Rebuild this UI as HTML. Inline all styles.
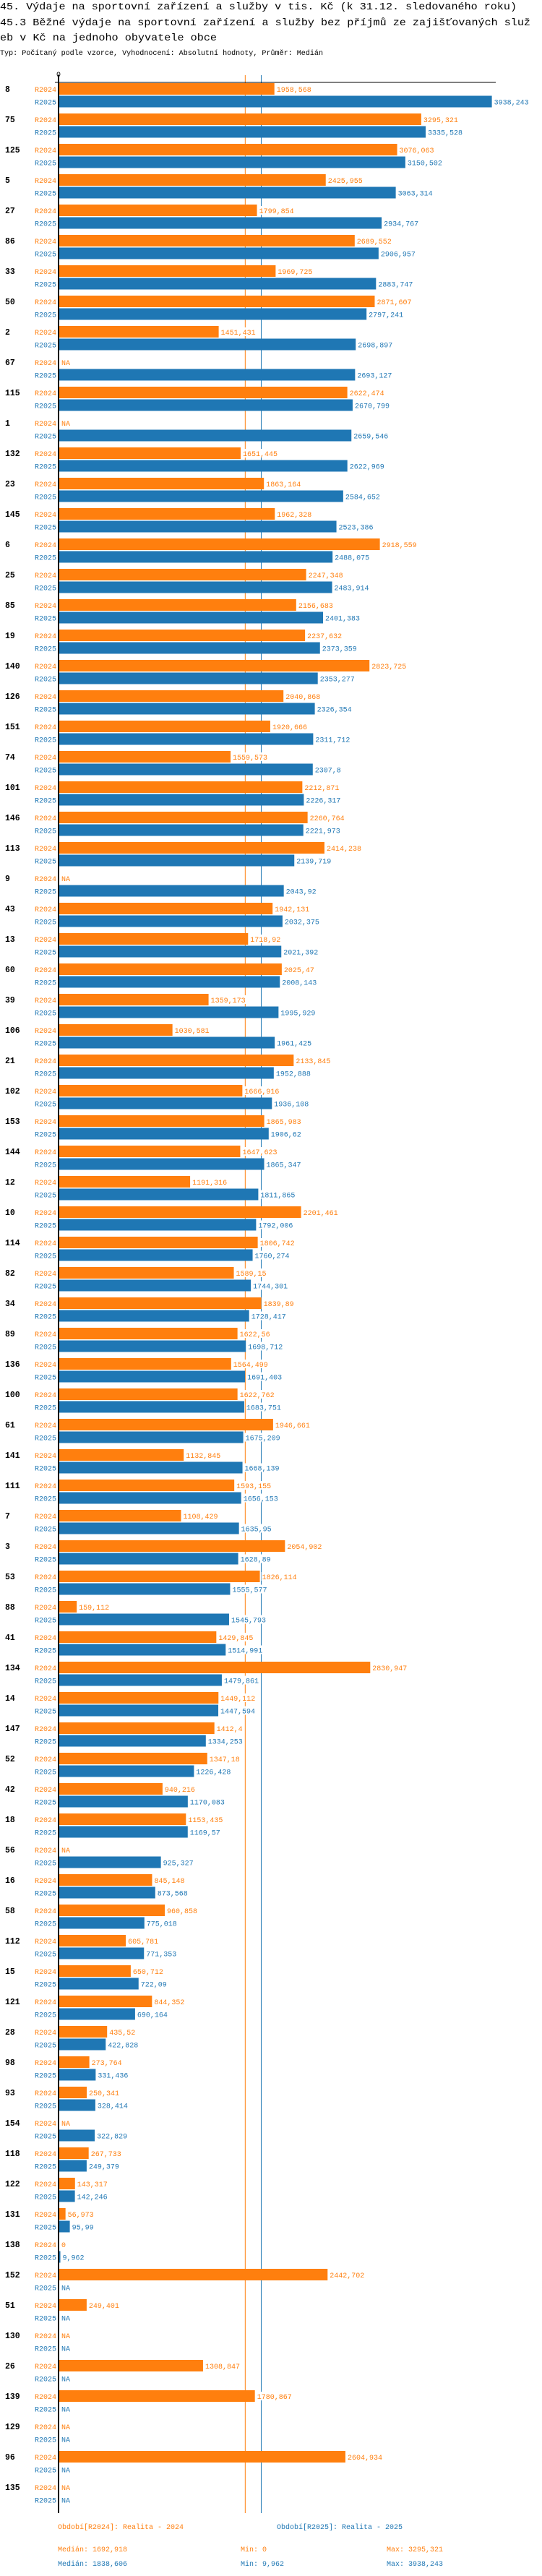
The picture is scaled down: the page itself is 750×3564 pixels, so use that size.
<!DOCTYPE html>
<html><head><meta charset="utf-8">
<style>
html,body{margin:0;padding:0;background:#fff;}
svg{display:block;}
text{font-family:"Liberation Mono",monospace;}
</style></head>
<body>
<svg id="chart" width="750" height="3564" viewBox="0 0 750 3564" xmlns="http://www.w3.org/2000/svg">
<text x="0" y="13" font-size="14" textLength="715" lengthAdjust="spacingAndGlyphs">45. Výdaje na sportovní zařízení a služby v tis. Kč (k 31.12. sledovaného roku)</text>
<text x="0" y="35" font-size="14" textLength="734" lengthAdjust="spacingAndGlyphs">45.3 Běžné výdaje na sportovní zařízení a služby bez příjmů ze zajišťovaných služ</text>
<text x="0" y="56" font-size="14" textLength="300" lengthAdjust="spacingAndGlyphs">eb v Kč na jednoho obyvatele obce</text>
<text x="0" y="76" font-size="10" textLength="447" lengthAdjust="spacingAndGlyphs">Typ: Počítaný podle vzorce, Vyhodnocení: Absolutní hodnoty, Průměr: Medián</text>
<g id="marks"></g>
<g id="overlay"></g>
</svg>
<script>
const categories = ["8","75","125","5","27","86","33","50","2","67","115","1","132","23","145","6","25","85","19","140","126","151","74","101","146","113","9","43","13","60","39","106","21","102","153","144","12","10","114","82","34","89","136","100","61","141","111","7","3","53","88","41","134","14","147","52","42","18","56","16","58","112","15","121","28","98","93","154","118","122","131","138","152","51","130","26","139","129","96","135"];
const values2024 = [1958.568,3295.321,3076.063,2425.955,1799.854,2689.552,1969.725,2871.607,1451.431,null,2622.474,null,1651.445,1863.164,1962.328,2918.559,2247.348,2156.683,2237.632,2823.725,2040.868,1920.666,1559.573,2212.871,2260.764,2414.238,null,1942.131,1718.92,2025.47,1359.173,1030.581,2133.845,1666.916,1865.983,1647.623,1191.316,2201.461,1806.742,1589.15,1839.89,1622.56,1564.499,1622.762,1946.661,1132.845,1593.155,1108.429,2054.902,1826.114,159.112,1429.845,2830.947,1449.112,1412.4,1347.18,940.216,1153.435,null,845.148,960.858,605.781,650.712,844.352,435.52,273.764,250.341,null,267.733,143.317,56.973,0,2442.702,249.401,null,1308.847,1780.867,null,2604.934,null];
const values2025 = [3938.243,3335.528,3150.502,3063.314,2934.767,2906.957,2883.747,2797.241,2698.897,2693.127,2670.799,2659.546,2622.969,2584.652,2523.386,2488.075,2483.914,2401.383,2373.359,2353.277,2326.354,2311.712,2307.8,2226.317,2221.973,2139.719,2043.92,2032.375,2021.392,2008.143,1995.929,1961.425,1952.888,1936.108,1906.62,1865.347,1811.865,1792.006,1760.274,1744.301,1728.417,1698.712,1691.403,1683.751,1675.209,1668.139,1656.153,1635.95,1628.89,1555.577,1545.793,1514.991,1479.861,1447.594,1334.253,1226.428,1170.083,1169.57,925.327,873.568,775.018,771.353,722.09,690.164,422.828,331.436,328.414,322.829,249.379,142.246,95.99,9.962,null,null,null,null,null,null,null,null];
const seriesNames = ["R2024","R2025"];
const median2024 = 1692.918, median2025 = 1838.606;
const stats2024 = ["Medián: 1692,918","Min: 0","Max: 3295,321"];
const stats2025 = ["Medián: 1838,606","Min: 9,962","Max: 3938,243"];

const NS = "http://www.w3.org/2000/svg";
const X0 = 82, SCALE = 0.152, TOP = 115, PITCH = 42;
const COL = ["#ff7f0e","#1f77b4"];
function xs(v){ return X0 + v*SCALE; }
function yRow(i, s){ return TOP + i*PITCH + s*17.5; }
function fmt(v){ return String(v).replace('.', ','); }
function mk(tag, attrs, parent, txt){
  const e = document.createElementNS(NS, tag);
  for (const k in attrs) e.setAttribute(k, attrs[k]);
  if (txt !== undefined) e.textContent = txt;
  parent.appendChild(e); return e;
}
const marks = document.getElementById('marks');
const overlay = document.getElementById('overlay');
const bottom = TOP + categories.length*PITCH + 2;

[median2024, median2025].forEach((m, s) => {
  const l = mk('line', {x1: xs(m), x2: xs(m), y1: 104, y2: bottom, stroke: COL[s], 'stroke-width': 1}, marks);
  
  
});

const series = [values2024, values2025];
categories.forEach((c, i) => {
  const g = mk('text', {x: 7, y: yRow(i,0)+12, 'font-size': 11.5, 'font-weight': 'bold', fill: '#000'}, marks, c);
  
  
  series.forEach((vals, s) => {
    const y = yRow(i, s);
    const lab = mk('text', {x: 78, y: y+12, 'font-size': 10, fill: COL[s], 'text-anchor': 'end'}, marks, seriesNames[s]);
    
    
    const v = vals[i];
    let tx = X0 + 3, str = 'NA';
    if (v !== null) {
      const w = xs(v) - X0;
      if (w > 0) {
        const r = mk('rect', {x: X0, y: y, width: w, height: 16, fill: COL[s]}, marks);
        
        
      }
      tx = xs(v) + 3; str = fmt(v);
    }
    const bg = mk('rect', {x: tx - 1, y: y + 2, width: str.length*6 + 2, height: 12, fill: '#fff'}, overlay);
    
    
    const t = mk('text', {x: tx, y: y+12, 'font-size': 10, fill: COL[s]}, overlay, str);
    
    
  });
});

const ax = mk('line', {x1: 81, x2: 81, y1: 104, y2: bottom, stroke: '#000', 'stroke-width': 2}, overlay);


const tx = mk('line', {x1: 76, x2: 686, y1: 114, y2: 114, stroke: '#000', 'stroke-width': 1}, overlay);


const zero = mk('text', {x: 78, y: 106, 'font-size': 10, fill: '#000'}, overlay, '0');



const l1 = mk('text', {x: 80, y: 3499, 'font-size': 10, fill: COL[0]}, overlay, 'Období[R2024]: Realita - 2024');


const l2 = mk('text', {x: 383, y: 3499, 'font-size': 10, fill: COL[1]}, overlay, 'Období[R2025]: Realita - 2025');


const sx = [80, 333, 535];
[stats2024, stats2025].forEach((arr, s) => {
  arr.forEach((str, k) => {
    const t = mk('text', {x: sx[k], y: 3530 + s*20, 'font-size': 10, fill: COL[s]}, overlay, str);
    
    
  });
});
</script>
</body></html>
